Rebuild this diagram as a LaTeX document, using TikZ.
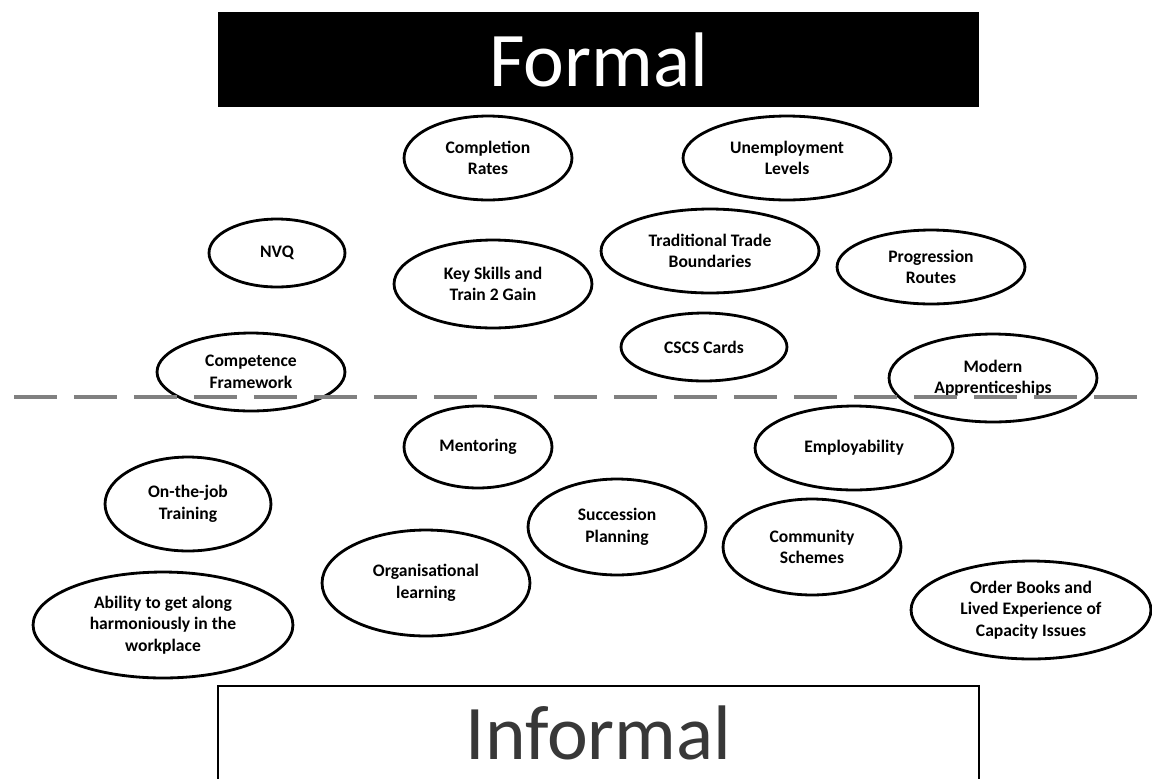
\documentclass[tikz,border=0pt]{standalone}
\usepackage{fontspec}
\setmainfont{Carlito}
\usetikzlibrary{shapes.geometric}
\tikzset{
x=0.02cm, y=-0.02cm, % one unit is one pixel of the page, y runs downwards
idea/.style 2 args={ellipse, draw, line width=1.6pt, fill=white, inner sep=0pt, align=center,
  font=\bfseries\fontsize{10}{12.2}\selectfont,
  minimum width=#1*0.04cm, minimum height=#2*0.04cm}, % an oval, given its half width and half height
banner/.style={rectangle, inner sep=0pt, minimum width=15.22cm, minimum height=1.9cm,
  font=\fontsize{44}{52}\selectfont}, % the two headings
divider/.style={draw=gray, line width=2.8pt, dash pattern=on 0.86cm off 0.34cm}, % formal / informal split
}

\begin{document}
\begin{tikzpicture}
            \useasboundingbox (0,0) rectangle (1152,778);
            \clip (0,0) rectangle (1152,778);
            % headings
            \node[banner, fill=black, text=white] (formal) at (598.5,59.5) {Formal};
            \node[banner, draw, line width=1.5pt, minimum height=1.88cm, text=black!78] (informal) at (598.5,733) {Informal};
            % formal side
            \node[idea={84}{42}] (compl) at (488,158) {Completion\\Rates};
            \node[idea={104}{42}] (unemp) at (787,158) {Unemployment\\Levels};
            \node[idea={68}{34}] (nvq) at (277,253) {NVQ};
            \node[idea={99}{44}] (keysk) at (493,284) {Key Skills and\\Train 2 Gain};
            \node[idea={109}{42}] (trade) at (710,251) {Traditional Trade\\Boundaries};
            \node[idea={94}{37}] (progr) at (931,267) {Progression\\Routes};
            \node[idea={83}{34}] (cscs) at (704,347) {CSCS Cards};
            \node[idea={94}{39}] (compf) at (251,372) {Competence\\Framework};
            \node[idea={104}{44}] (appr) at (993,378) {Modern\\Apprenticeships};
            % informal side
            \node[idea={74}{41}] (mentor) at (478,447) {Mentoring};
            \node[idea={99}{42}] (employ) at (854,448) {Employability};
            \node[idea={83}{47}] (onjob) at (188,504) {On-the-job\\Training};
            \node[idea={89}{48}] (succ) at (617,527) {Succession\\Planning};
            \node[idea={89}{48}] (commun) at (812,547) {Community\\Schemes};
            \node[idea={104}{53}] (orgl) at (426,583) {Organisational\\learning};
            \node[idea={130}{53}] (along) at (163,625) {Ability to get along\\harmoniously in the\\workplace};
            \node[idea={120}{49}] (orders) at (1031,610) {Order Books and\\Lived Experience of\\Capacity Issues};
            % the split runs over the ovals
            \coordinate (splitL) at (14,397);
            \coordinate (splitR) at (1138,397);
            \draw[divider] (splitL) -- (splitR);
\end{tikzpicture}
\end{document}
